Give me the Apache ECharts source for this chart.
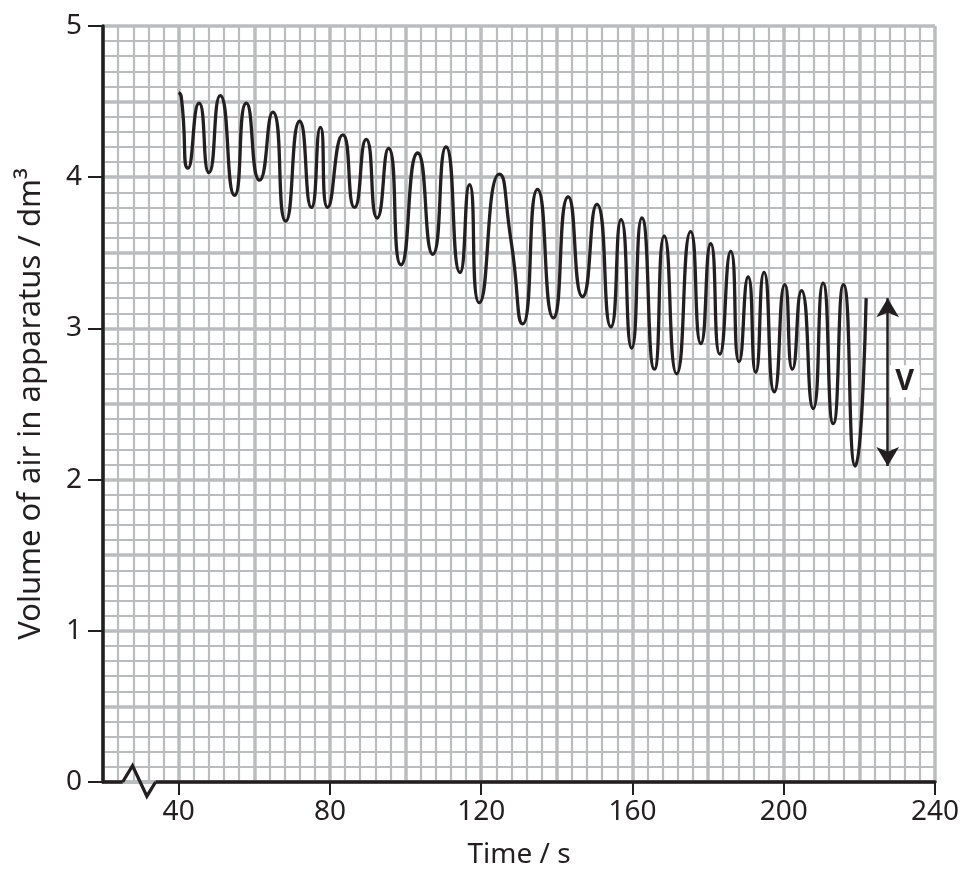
<!DOCTYPE html>
<html><head><meta charset="utf-8">
<script src="https://cdn.jsdelivr.net/npm/echarts@6/dist/echarts.min.js"></script>
<style>html,body{margin:0;padding:0;background:#fff}#c{width:962px;height:874px}</style>
</head><body><div id="c"></div>
<script>
// ---- data ----
const times = [40, 40.7, 42.5, 45.4, 48.0, 51.0, 54.8, 57.9, 61.4, 64.9, 68.3,
  72.0, 75.1, 77.5, 79.4, 83.4, 86.5, 89.6, 92.5, 95.5, 98.8,
  103.2, 107.2, 110.7, 114.4, 116.9, 119.5, 124.8, 127.9, 131.0,
  134.9, 139.1, 143.0, 146.8, 150.6, 154.3, 157.0, 159.8,
  162.5, 165.8, 168.4, 171.7, 175.4, 178.1, 180.7, 183.1, 186.0, 188.2,
  190.6, 192.6, 194.8, 197.5, 200.3, 202.3, 204.7, 207.8, 210.4, 213.1, 215.8, 218.9, 221.8];
const volumes = [4.56, 4.53, 4.06, 4.49, 4.03, 4.54, 3.88, 4.49, 3.98, 4.43, 3.71,
  4.37, 3.80, 4.33, 3.80, 4.28, 3.80, 4.25, 3.73, 4.19, 3.42,
  4.16, 3.49, 4.20, 3.37, 3.95, 3.17, 4.02, 3.58, 3.03,
  3.92, 3.07, 3.87, 3.21, 3.82, 3.01, 3.72, 2.87,
  3.73, 2.73, 3.61, 2.70, 3.64, 2.90, 3.56, 2.83, 3.51, 2.78,
  3.34, 2.71, 3.37, 2.58, 3.29, 2.73, 3.25, 2.47, 3.30, 2.37, 3.29, 2.09, 3.20];
const xTickValues = [40, 80, 120, 160, 200, 240];
const yTickValues = [0, 1, 2, 3, 4, 5];
const arrowTime = 227.5;
const arrowEnds = [3.2, 2.09];
const vLabelPos = [232.0, 2.65];
const vLabelText = 'V';
const xName = 'Time / s';
const yName = 'Volume of air in apparatus / dm³';
// axis-break zigzag (data units, decoration)
const breakX = [25.2, 27.8, 31.6, 33.9];
const breakY = [0, 0.108, -0.094, 0];

// ---- chart ----
const ink = '#231f20';
const gridColor = '#bbbcbe';
const font = 'Noto Sans';
const chart = echarts.init(document.getElementById('c'));

const labelStyle = {color: ink, fontSize: 28, fontFamily: font};

const option = {
  animation: false,
  grid: {left: 103, right: 26, top: 26, bottom: 91},
  xAxis: [
    {type: 'value', min: 20, max: 240, interval: 20,
     axisLine: {show: false}, axisTick: {show: false}, axisLabel: {show: false},
     splitLine: {show: true, lineStyle: {color: gridColor, width: 3.5}},
     minorTick: {show: false, splitNumber: 5},
     minorSplitLine: {show: true, lineStyle: {color: gridColor, width: 2.2}}},
    {type: 'value', min: 20, max: 240, position: 'bottom',
     axisLine: {show: true, onZero: false, lineStyle: {color: ink, width: 3.5}},
     axisTick: {show: true, customValues: xTickValues, length: 13, lineStyle: {color: ink, width: 2}},
     axisLabel: Object.assign({show: true, customValues: xTickValues, margin: 16}, labelStyle),
     splitLine: {show: false},
     name: xName, nameLocation: 'middle', nameGap: 59,
     nameTextStyle: {color: ink, fontSize: 28, fontFamily: font}}
  ],
  yAxis: [
    {type: 'value', min: 0, max: 5, interval: 0.5,
     axisLine: {show: false}, axisTick: {show: false}, axisLabel: {show: false},
     splitLine: {show: true, lineStyle: {color: gridColor, width: 3.5}},
     minorTick: {show: false, splitNumber: 5},
     minorSplitLine: {show: true, lineStyle: {color: gridColor, width: 2.2}}},
    {type: 'value', min: 0, max: 5, position: 'left',
     axisLine: {show: true, onZero: false, lineStyle: {color: ink, width: 3.5}},
     axisTick: {show: true, customValues: yTickValues, length: 15, lineStyle: {color: ink, width: 2}},
     axisLabel: Object.assign({show: true, customValues: yTickValues, margin: 21}, labelStyle),
     splitLine: {show: false},
     name: yName, nameLocation: 'middle', nameGap: 56,
     nameTextStyle: {color: ink, fontSize: 31, fontFamily: font}}
  ],
  series: [{
    type: 'line', xAxisIndex: 0, yAxisIndex: 0,
    data: times.map((t, i) => [t, volumes[i]]),
    smooth: 0.65, symbol: 'none', silent: true,
    lineStyle: {color: ink, width: 3.3},
    markLine: {
      silent: true, symbol: ['arrow', 'arrow'], symbolSize: [17, 19],
      lineStyle: {color: ink, width: 2.5, type: 'solid'},
      label: {show: false},
      data: [[{coord: [arrowTime, arrowEnds[0]]}, {coord: [arrowTime, arrowEnds[1]]}]]
    },
    markPoint: {
      silent: true, symbol: 'rect', symbolSize: [30, 32],
      itemStyle: {color: '#fff'},
      label: {show: true, formatter: vLabelText, color: ink, fontSize: 29, fontWeight: 'bold', fontFamily: font, position: 'inside'},
      data: [{coord: vLabelPos}]
    }
  }]
};
chart.setOption(option);

const pts = breakX.map((x, i) => chart.convertToPixel({xAxisIndex: 0, yAxisIndex: 0}, [x, breakY[i]]));
chart.setOption({
  graphic: [
    {type: 'line', z: 100, silent: true,
     shape: {x1: pts[0][0], y1: pts[0][1], x2: pts[3][0], y2: pts[3][1]},
     style: {stroke: gridColor, lineWidth: 4}},
    {type: 'polyline', z: 101, silent: true,
     shape: {points: pts},
     style: {stroke: ink, lineWidth: 3.3, fill: null, lineJoin: 'miter'}}
  ]
});
</script>
</body></html>
